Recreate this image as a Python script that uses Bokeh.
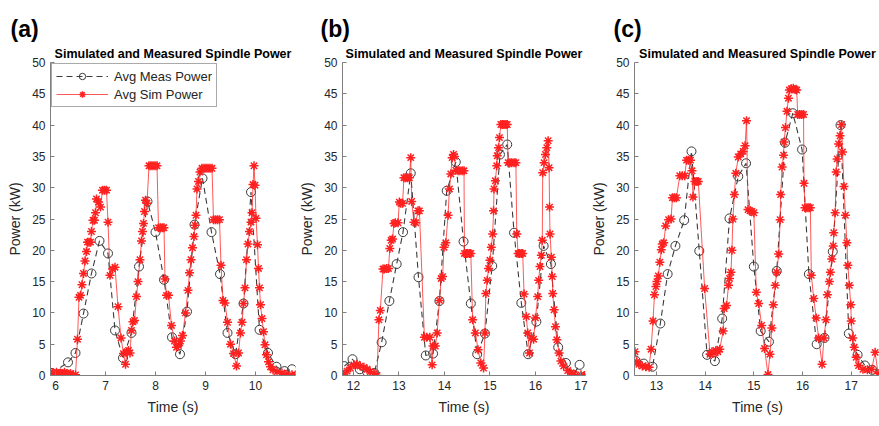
from bokeh.plotting import figure
from bokeh.layouts import row
from bokeh.models import Title, FixedTicker, Legend
from bokeh.embed import file_html
from bokeh.resources import INLINE

# ---------------- data ----------------
# Panel (a)
a_meas_t = [5.93, 6.25, 6.40, 6.56, 6.72, 6.88, 7.05, 7.19, 7.35, 7.52, 7.67, 7.84, 8.00, 8.17, 8.33,
            8.49, 8.63, 8.78, 8.94, 9.12, 9.29, 9.44, 9.60, 9.76, 9.91, 10.08, 10.25, 10.42, 10.58, 10.73]
a_meas_p = [0.4, 2.1, 3.6, 9.9, 16.3, 21.5, 19.5, 7.2, 2.8, 6.8, 17.4, 27.8, 22.9, 15.3, 6.1,
            3.4, 10.2, 24.1, 31.5, 22.9, 16.2, 6.8, 3.4, 11.5, 29.3, 7.3, 3.6, 1.4, 0.7, 1.0]
a_sim_t = [5.90, 5.94, 5.98, 6.02, 6.06, 6.10, 6.14, 6.18, 6.22, 6.26, 6.30, 6.35, 6.40, 6.44, 6.47,
           6.50, 6.53, 6.56, 6.59, 6.62, 6.64, 6.67, 6.70, 6.72, 6.75, 6.78, 6.80, 6.82, 6.86, 6.90,
           6.94, 6.98, 7.02, 7.05, 7.09, 7.14, 7.19, 7.25, 7.31, 7.36, 7.40, 7.43, 7.46, 7.49, 7.52,
           7.55, 7.58, 7.62, 7.65, 7.69, 7.72, 7.74, 7.76, 7.78, 7.80, 7.83, 7.87, 7.91, 7.95, 7.99,
           8.03, 8.06, 8.10, 8.14, 8.17, 8.19, 8.22, 8.26, 8.32, 8.38, 8.42, 8.46, 8.50, 8.54, 8.60,
           8.65, 8.68, 8.71, 8.74, 8.77, 8.79, 8.81, 8.83, 8.86, 8.89, 8.93, 8.97, 9.01, 9.05, 9.09,
           9.13, 9.16, 9.20, 9.24, 9.28, 9.31, 9.35, 9.39, 9.44, 9.50, 9.56, 9.62, 9.66, 9.70, 9.73,
           9.76, 9.79, 9.82, 9.85, 9.88, 9.91, 9.93, 9.95, 9.97, 9.99, 10.01, 10.04, 10.06, 10.08, 10.10,
           10.13, 10.16, 10.19, 10.22, 10.26, 10.30, 10.35, 10.43, 10.53, 10.63, 10.73, 10.80]
a_sim_p = [0.5, 0.4, 0.3, 0.5, 0.3, 0.4, 0.3, 0.5, 0.3, 0.2, 0.3, 0.1, 0.1, 5.8, 12.5,
           12.8, 14.5, 16.3, 18.3, 19.8, 21.3, 21.3, 21.3, 23.0, 24.8, 24.8, 26.0, 28.2, 27.7, 26.9,
           29.6, 29.6, 29.6, 24.5, 16.0, 17.0, 17.3, 11.0, 6.0, 3.5, 1.8, 3.8, 4.0, 3.6, 7.2,
           8.6, 8.8, 12.6, 15.0, 18.5, 21.5, 23.0, 24.3, 26.2, 28.0, 27.5, 33.5, 33.5, 33.5, 33.5,
           33.5, 23.6, 23.6, 23.6, 23.6, 15.4, 12.8, 12.8, 8.0, 5.5, 4.5, 4.8, 5.5, 6.4, 10.0,
           13.6, 16.4, 18.5, 20.4, 22.2, 24.0, 25.6, 29.8, 31.0, 32.5, 33.1, 33.1, 33.1, 33.1, 33.1,
           33.1, 24.9, 24.9, 24.9, 24.9, 17.6, 12.0, 11.6, 8.5, 5.0, 3.5, 1.5, 3.6, 6.8, 8.5,
           11.5, 14.0, 18.5, 21.0, 23.0, 24.5, 26.0, 30.5, 33.5, 30.4, 25.1, 20.9, 17.1, 14.0, 11.3,
           9.1, 7.0, 4.9, 3.3, 2.2, 1.4, 0.9, 0.6, 0.4, 0.2, 0.1, 0.1]

# Panel (b)
b_meas_t = [11.80, 11.98, 12.14, 12.30, 12.46, 12.62, 12.79, 12.95, 13.09, 13.26, 13.43, 13.59, 13.75, 13.89,
            14.05, 14.25, 14.42, 14.58, 14.72, 14.89, 15.05, 15.22, 15.38, 15.53, 15.69, 15.84, 16.02, 16.18,
            16.34, 16.50, 16.67, 16.83, 16.97]
b_meas_p = [1.5, 2.6, 1.0, 0.6, 0.4, 5.3, 11.9, 17.8, 22.9, 32.3, 15.7, 3.2, 3.5, 11.9,
            29.5, 34.1, 21.4, 11.5, 3.4, 6.7, 17.5, 35.3, 36.9, 22.8, 11.6, 3.4, 8.6, 20.7,
            17.8, 4.5, 2.0, 0.1, 1.7]
b_sim_t = [11.79, 11.86, 11.93, 12.01, 12.08, 12.15, 12.23, 12.30, 12.37, 12.45, 12.52, 12.56, 12.59, 12.65,
           12.68, 12.73, 12.77, 12.80, 12.83, 12.86, 12.89, 12.92, 12.98, 13.01, 13.04, 13.08, 13.11, 13.15,
           13.19, 13.23, 13.26, 13.28, 13.33, 13.37, 13.42, 13.45, 13.56, 13.61, 13.68, 13.73, 13.75, 13.80,
           13.84, 13.89, 13.93, 13.96, 13.99, 14.03, 14.08, 14.11, 14.14, 14.17, 14.20, 14.22, 14.25, 14.30,
           14.34, 14.39, 14.43, 14.44, 14.48, 14.51, 14.55, 14.58, 14.62, 14.68, 14.74, 14.80, 14.86, 14.89,
           14.91, 14.94, 14.97, 15.00, 15.03, 15.06, 15.08, 15.09, 15.12, 15.15, 15.16, 15.19, 15.21, 15.24,
           15.28, 15.31, 15.35, 15.38, 15.40, 15.44, 15.48, 15.53, 15.57, 15.59, 15.62, 15.65, 15.69, 15.72,
           15.75, 15.80, 15.83, 15.87, 15.91, 15.96, 16.00, 16.05, 16.07, 16.10, 16.13, 16.15, 16.16, 16.19,
           16.22, 16.25, 16.28, 16.30, 16.31, 16.32, 16.35, 16.37, 16.38, 16.41, 16.44, 16.47, 16.52, 16.56,
           16.62, 16.71, 16.78, 16.85, 17.00, 17.08]
b_sim_p = [0.2, 0.7, 1.2, 1.7, 1.8, 1.5, 1.3, 1.0, 0.6, 0.3, 0.0, 8.9, 10.4, 17.0,
           17.0, 17.1, 17.1, 20.3, 21.6, 21.8, 24.3, 24.4, 24.4, 27.7, 27.5, 27.5, 31.6, 31.6,
           31.6, 31.6, 34.8, 27.8, 24.5, 24.4, 26.3, 26.3, 6.1, 6.1, 6.1, 1.7, 4.7, 4.7,
           6.8, 12.0, 15.5, 15.8, 20.5, 21.2, 25.6, 29.8, 32.2, 34.8, 35.3, 35.0, 32.8, 32.7,
           32.7, 32.7, 32.7, 19.5, 19.5, 19.5, 19.5, 19.5, 8.9, 6.8, 4.1, 2.0, 1.2, 6.8,
           13.1, 15.2, 17.1, 18.4, 20.5, 22.6, 26.3, 29.8, 31.1, 33.5, 35.1, 36.4, 38.0, 40.1,
           40.1, 40.1, 40.1, 40.1, 34.0, 34.0, 34.0, 34.0, 34.0, 22.6, 19.5, 19.5, 19.5, 19.5,
           13.0, 9.4, 6.8, 3.6, 6.0, 5.8, 9.2, 12.6, 15.2, 17.4, 19.2, 21.6, 32.4, 34.0,
           35.3, 36.4, 37.5, 33.2, 26.9, 22.6, 18.9, 15.8, 13.1, 10.5, 7.8, 5.7, 3.6, 2.3,
           1.5, 0.8, 0.4, 0.2, 0.1, 0.0]

# Panel (c)
c_meas_t = [12.57, 12.74, 12.92, 13.08, 13.23, 13.39, 13.57, 13.72, 13.88, 14.04, 14.20, 14.35, 14.50, 14.68,
            14.84, 15.00, 15.14, 15.31, 15.47, 15.64, 15.80, 15.99, 16.13, 16.29, 16.45, 16.62, 16.78, 16.95,
            17.13, 17.28, 17.43]
c_meas_p = [2.4, 1.9, 1.4, 8.3, 16.2, 20.7, 24.8, 35.8, 19.9, 3.3, 2.3, 9.1, 25.1, 31.8,
            33.9, 17.4, 7.1, 5.4, 16.7, 37.2, 41.9, 36.1, 16.2, 5.0, 6.0, 19.8, 40.0, 6.7,
            3.3, 1.6, 0.9]
c_sim_t = [12.56, 12.60, 12.64, 12.71, 12.78, 12.85, 12.89, 12.93, 12.96, 12.99, 13.01, 13.04, 13.07, 13.10,
           13.12, 13.15, 13.19, 13.25, 13.30, 13.33, 13.37, 13.41, 13.48, 13.53, 13.58, 13.62, 13.66, 13.70,
           13.73, 13.75, 13.79, 13.83, 13.86, 13.99, 14.10, 14.14, 14.18, 14.22, 14.26, 14.30, 14.37, 14.39,
           14.44, 14.48, 14.50, 14.53, 14.55, 14.57, 14.60, 14.63, 14.68, 14.73, 14.78, 14.82, 14.85, 14.88,
           14.92, 14.96, 15.00, 15.05, 15.10, 15.16, 15.22, 15.29, 15.33, 15.37, 15.40, 15.44, 15.47, 15.51,
           15.54, 15.55, 15.58, 15.61, 15.62, 15.65, 15.68, 15.71, 15.73, 15.77, 15.81, 15.85, 15.88, 15.90,
           15.94, 15.98, 16.02, 16.03, 16.05, 16.09, 16.13, 16.16, 16.18, 16.23, 16.28, 16.33, 16.40, 16.44,
           16.48, 16.51, 16.55, 16.57, 16.60, 16.63, 16.64, 16.67, 16.69, 16.71, 16.74, 16.77, 16.80, 16.82,
           16.85, 16.88, 16.91, 16.93, 16.96, 16.99, 17.00, 17.03, 17.06, 17.10, 17.15, 17.24, 17.33, 17.42,
           17.49, 17.55]
c_sim_p = [3.8, 2.2, 1.8, 1.5, 1.4, 1.3, 4.2, 8.7, 12.9, 14.2, 15.0, 15.9, 18.1, 20.1,
           21.0, 21.2, 23.9, 24.9, 25.0, 28.4, 28.4, 28.4, 31.9, 31.9, 31.9, 34.4, 34.4, 34.4,
           32.7, 28.5, 31.0, 31.0, 31.0, 13.9, 3.4, 3.8, 3.6, 4.0, 3.8, 4.2, 7.1, 10.7,
           11.2, 14.4, 15.5, 16.5, 20.0, 25.0, 28.9, 32.3, 34.9, 35.4, 35.8, 36.7, 40.7, 26.5,
           26.3, 26.2, 26.0, 13.3, 11.5, 8.0, 4.3, 0.15, 3.4, 7.6, 11.3, 14.4, 16.5, 19.4,
           24.9, 28.9, 33.3, 35.2, 37.3, 39.6, 42.2, 44.3, 45.6, 45.8, 45.9, 45.7, 45.6, 41.7,
           41.7, 41.7, 41.7, 30.7, 26.8, 26.8, 26.8, 26.8, 16.0, 12.3, 9.2, 6.0, 1.8, 6.0,
           8.9, 12.9, 15.0, 16.5, 18.6, 20.7, 22.8, 26.0, 32.5, 34.6, 37.0, 38.3, 40.1, 35.7,
           30.2, 25.6, 21.2, 17.6, 14.4, 11.3, 8.7, 6.0, 4.5, 2.9, 1.6, 1.0, 0.9, 1.0,
           3.7, 0.3]

x_ranges = [(5.9, 10.8), (11.76, 17.1), (12.55, 17.6)]
x_ticks = [[6, 7, 8, 9, 10], [12, 13, 14, 15, 16, 17], [13, 14, 15, 16, 17]]
y_ticks = [0, 5, 10, 15, 20, 25, 30, 35, 40, 45, 50]
panel_labels = ["(a)", "(b)", "(c)"]
title_text = "Simulated and Measured Spindle Power"
meas_name = "Avg Meas Power"
sim_name = "Avg Sim Power"

data = [(a_meas_t, a_meas_p, a_sim_t, a_sim_p),
        (b_meas_t, b_meas_p, b_sim_t, b_sim_p),
        (c_meas_t, c_meas_p, c_sim_t, c_sim_p)]

# layout geometry (screen pixels)
borders_left = [50, 44, 43]
frame_widths = [245, 243, 246]
borders_right = [1, 3, 4]
label_dx = [-40, -22, -21]

FONT = "Liberation Sans"
AX = "#7f7f7f"
TXT = "#262626"
RED = "#ff2020"

figs = []
for i in range(3):
    mt, mp, st, sp = data[i]
    p = figure(frame_width=frame_widths[i], frame_height=313,
               min_border_left=borders_left[i], min_border_right=borders_right[i],
               min_border_top=62, min_border_bottom=51,
               x_range=x_ranges[i], y_range=(0, 50),
               output_backend="svg", toolbar_location=None,
               title=panel_labels[i])
    # main (outermost) title is the panel letter
    p.title.text_font = FONT
    p.title.text_font_size = "23px"
    p.title.text_font_style = "bold"
    p.title.text_color = "black"
    p.title.align = "left"
    p.title.offset = label_dx[i]
    p.title.standoff = 4
    p.outline_line_color = None
    p.background_fill_color = "white"
    p.border_fill_color = "white"
    p.grid.visible = False
    for ax in (p.xaxis[0], p.yaxis[0]):
        ax.axis_line_color = AX
        ax.major_tick_line_color = AX
        ax.major_tick_in = 4
        ax.major_tick_out = 0
        ax.minor_tick_line_color = None
        ax.major_label_text_font = FONT
        ax.major_label_text_font_size = "12px"
        ax.major_label_text_color = TXT
        ax.axis_label_text_font = FONT
        ax.axis_label_text_font_size = "14px"
        ax.axis_label_text_font_style = "normal"
        ax.axis_label_text_color = TXT
    p.xaxis.ticker = FixedTicker(ticks=x_ticks[i])
    p.yaxis.ticker = FixedTicker(ticks=y_ticks)
    p.xaxis.axis_label = "Time (s)"
    p.yaxis.axis_label = "Power (kW)"
    p.xaxis.axis_label_standoff = 6
    p.yaxis.axis_label_standoff = 6

    r1 = p.line(mt, mp, line_color="#3a3a3a", line_dash="6 4", line_width=1.1)
    r2 = p.scatter(mt, mp, marker="circle", size=9, fill_color=None,
                   line_color="#3a3a3a", line_width=1)
    r3 = p.line(st, sp, line_color=RED, line_width=1, line_alpha=0.75)
    r4 = p.scatter(st, sp, marker="asterisk", size=9, line_color=RED, line_width=1.5)

    if i == 0:
        leg = Legend(items=[(meas_name, [r1, r2]), (sim_name, [r3, r4])],
                     location="top_left")
        leg.margin = 1
        leg.padding = 4
        leg.spacing = 2
        leg.glyph_width = 52
        leg.glyph_height = 16
        leg.label_standoff = 6
        leg.label_text_font = FONT
        leg.label_text_font_size = "13px"
        leg.label_text_color = TXT
        leg.border_line_color = "#555555"
        leg.border_line_width = 1
        leg.background_fill_color = "white"
        leg.background_fill_alpha = 1
        p.add_layout(leg, "center")

    t2 = Title(text=title_text, align="center",
               text_font=FONT, text_font_size="12.5px", text_font_style="bold",
               text_color="black", standoff=3)
    p.add_layout(t2, "above")
    figs.append(p)

layout = row(*figs, spacing=0)
open("out.html", "w").write(file_html(layout, INLINE))
